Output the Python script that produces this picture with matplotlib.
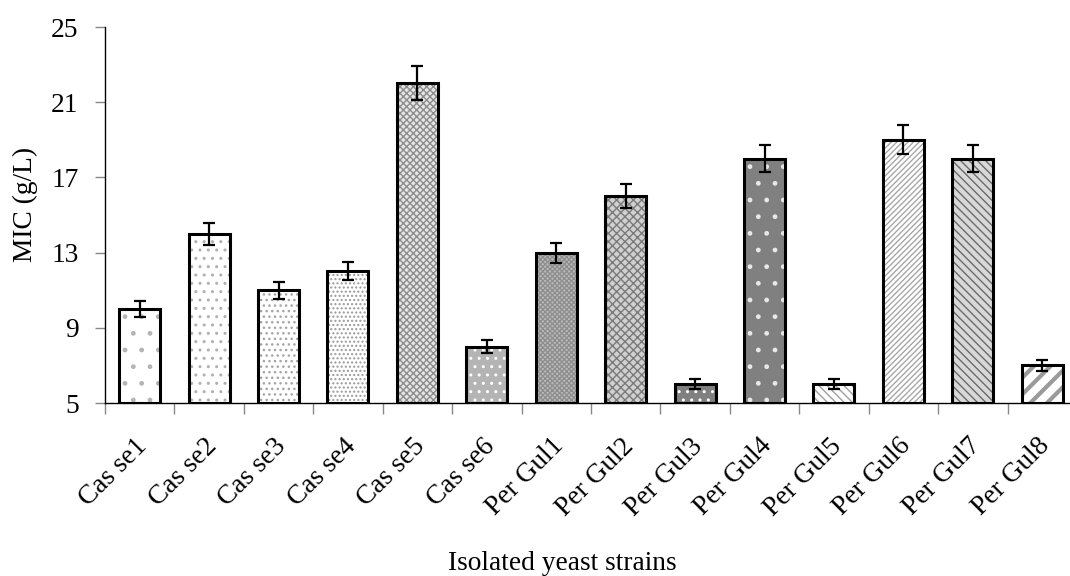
import matplotlib
matplotlib.use('Agg')
import matplotlib.pyplot as plt
import matplotlib.transforms as mtransforms
import numpy as np

# Data
strains = ['Cas se1', 'Cas se2', 'Cas se3', 'Cas se4', 'Cas se5', 'Cas se6',
           'Per Gul1', 'Per Gul2', 'Per Gul3', 'Per Gul4', 'Per Gul5', 'Per Gul6',
           'Per Gul7', 'Per Gul8']
mic = np.array([10, 14, 11, 12, 22, 8, 13, 16, 6, 18, 6, 19, 18, 7])
mic_err = np.array([0.42, 0.58, 0.45, 0.48, 0.9, 0.35, 0.53, 0.65, 0.26, 0.72, 0.26, 0.77, 0.72, 0.28])
y_ticks = [5, 9, 13, 17, 21, 25]

# Fill style per bar: (face colour, hatch colour, hatch)
bar_styles = [
    ('white', '#b4b4b4', '.'),
    ('white', '#b0b0b0', '..'),
    ('white', '#a4a4a4', '...'),
    ('white', '#9a9a9a', '....'),
    ('#e6e6e6', '#8c8c8c', 'xxxxx'),
    ('#b4b4b4', 'white', '..'),
    ('#bdbdbd', '#8e8e8e', 'xxxxxxx'),
    ('#d0d0d0', '#7a7a7a', 'xxxx'),
    ('#808080', 'white', '..'),
    ('#808080', '#e8e8e8', '.'),
    ('white', '#a0a0a0', '\\\\\\\\'),
    ('white', '#a8a8a8', '//////'),
    ('#d8d8d8', '#6a6a6a', '\\\\\\\\'),
    ('white', '#9a9a9a', '//'),
]

plt.rcParams['font.family'] = ['Liberation Serif', 'DejaVu Serif']
plt.rcParams['hatch.linewidth'] = 1.0
fs = 19.7

fig = plt.figure(figsize=(10.7, 5.76), dpi=100)
ax = fig.add_axes((0.0981, 0.3003, 0.9084, 0.6528))

x = np.arange(len(strains))
base = y_ticks[0]
width = 0.59

# Hatched fills first, then black outlines on top
for i, (face, hcol, hatch) in enumerate(bar_styles):
    b = ax.bar(x[i], mic[i] - base, bottom=base, width=width, color=face,
               edgecolor=hcol, linewidth=0, hatch=hatch, zorder=2)
    if strains[i] == 'Per Gul8':
        for p in b:
            if hasattr(p, 'set_hatch_linewidth'):
                p.set_hatch_linewidth(3.0)

ax.bar(x, mic - base, bottom=base, width=width, fill=False, edgecolor='black',
       linewidth=2.2, zorder=3)
ax.errorbar(x, mic, yerr=mic_err, fmt='none', ecolor='black', elinewidth=1.6,
            capsize=4, capthick=1.6, zorder=4)

ax.set_ylim(5, 25)
ax.set_xlim(-0.5, len(strains) - 0.5)
ax.set_yticks(y_ticks)
ax.tick_params(axis='y', labelsize=fs, length=7, color='#888888', width=1, pad=12)

ax.set_xticks(x)
ax.set_xticklabels(strains, rotation=45, ha='right', va='top', rotation_mode='anchor')
ax.tick_params(axis='x', which='major', labelsize=fs, length=0, pad=22)
shift = mtransforms.ScaledTranslation(-5 / 100, 0, fig.dpi_scale_trans)
for lab in ax.get_xticklabels():
    lab.set_transform(lab.get_transform() + shift)
ax.set_xticks(np.arange(-0.5, len(strains) - 0.5, 1), minor=True)
ax.tick_params(axis='x', which='minor', length=8, color='#888888', width=1)

for side in ['top', 'right']:
    ax.spines[side].set_visible(False)
ax.spines['left'].set_linewidth(1)
ax.spines['bottom'].set_linewidth(1)

ax.set_ylabel('MIC (g/L)', fontsize=fs, va='center')
ax.yaxis.set_label_coords(-0.082, 0.527)
ax.set_xlabel('Isolated yeast strains', fontsize=fs, va='center')
ax.xaxis.set_label_coords(0.471, -0.426)

fig.savefig('out.png', dpi=100)
